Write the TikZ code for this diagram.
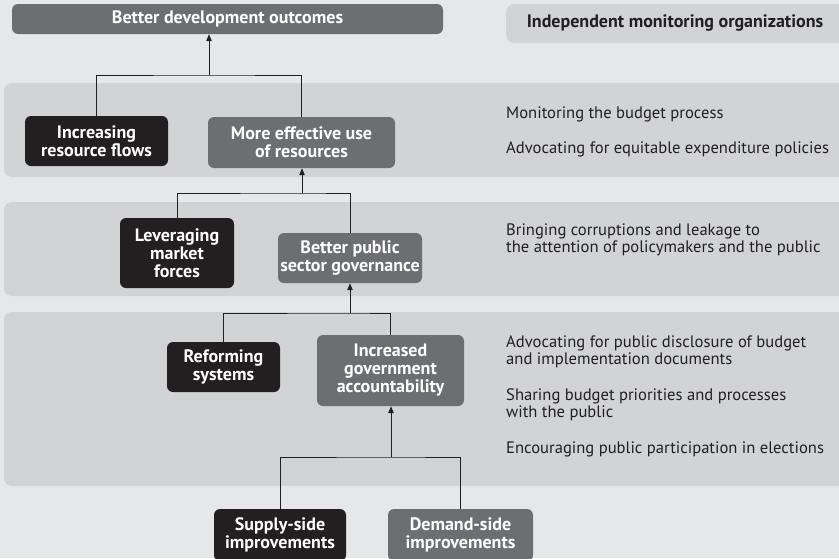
\documentclass[tikz,border=0pt]{standalone}
\usepackage{fontspec}
\setmainfont{PT Sans}
\usetikzlibrary{arrows.meta,calc}
\definecolor{bgc}{HTML}{E6E7E8}
\definecolor{bandc}{HTML}{D1D3D4}
\definecolor{gboxc}{HTML}{6D6E71}
\definecolor{kboxc}{HTML}{231F20}
\definecolor{txtc}{HTML}{231F20}
\begin{document}
\begin{tikzpicture}[x=1pt,y=-1pt,
 box/.style={rounded corners=6pt, align=center, text=white, font=\bfseries\fontsize{18}{18}\selectfont, inner sep=0pt},
 greybox/.style={box, fill=gboxc},
 blackbox/.style={box, fill=kboxc},
 band/.style={fill=bandc, rounded corners=8pt},
 conn/.style={draw=txtc, line width=1pt},
 arr/.style={conn, -{Triangle[length=7pt,width=5.5pt]}},
 desc/.style={anchor=base west, text=txtc, font=\fontsize{16.6}{18}\selectfont, inner sep=0pt}
]
\fill[bgc] (0,0) rectangle (839,558);
\useasboundingbox (0,0) rectangle (839,558);
% bands
\fill[band] (4,83) rectangle (860,177);
\fill[band] (4,202) rectangle (860,296);
\fill[band] (4,312) rectangle (860,486);
% top boxes
\node[greybox, minimum width=431pt, minimum height=30pt] (top) at (227.5,19) {Better development outcomes};
\node[band, minimum width=350pt, minimum height=39pt, anchor=west] (indbox) at (506,23.5) {};
\node[font=\bfseries\fontsize{18}{18}\selectfont, text=txtc, inner sep=0pt] (ind) at (675,23.5) {Independent monitoring organizations};
% level 1
\node[blackbox, minimum width=143pt, minimum height=50pt] (inc) at (96.5,141) {Increasing\\resource flows};
\node[greybox, minimum width=187pt, minimum height=51pt] (mor) at (301.5,142.5) {More effective use\\of resources};
% level 2
\node[blackbox, minimum width=114pt, minimum height=70pt] (lev) at (177,253) {Leveraging\\market\\forces};
\node[greybox, minimum width=144pt, minimum height=50pt] (bpg) at (350,258) {Better public\\sector governance};
% level 3
\node[blackbox, minimum width=113pt, minimum height=50pt] (ref) at (223.5,367) {Reforming\\systems};
\node[greybox, minimum width=147pt, minimum height=71pt] (acc) at (390.5,370.5) {Increased\\government\\accountability};
% level 4
\node[blackbox, minimum width=132pt, minimum height=52pt] (sup) at (280,535) {Supply-side\\improvements};
\node[greybox, minimum width=145pt, minimum height=52pt] (dem) at (460.5,535) {Demand-side\\improvements};
% junctions
\coordinate (j1) at (209,75);
\coordinate (j2) at (302,193);
\coordinate (j3) at (350,313);
\coordinate (j4) at (391,457);
% connectors
\draw[conn] (inc.north) |- (j1) -| (mor.north);
\draw[arr] (j1) -- (j1 |- top.south);
\draw[conn] (lev.north) |- (j2) -| (bpg.north);
\draw[arr] (j2) -- (j2 |- mor.south);
\draw[conn] (ref.north) |- (j3) -| (acc.north);
\draw[arr] (j3) -- (j3 |- bpg.south);
\draw[conn] (sup.north) |- (j4) -| (dem.north);
\draw[arr] (j4) -- (j4 |- acc.south);
% descriptions
\node[desc] (d1) at (506,118) {Monitoring the budget process};
\node[desc] (d2) at (506,153) {Advocating for equitable expenditure policies};
\node[desc] (d3a) at (506,235) {Bringing corruptions and leakage to};
\node[desc] (d3b) at (506,252.5) {the attention of policymakers and the public};
\node[desc] (d4a) at (506,347) {Advocating for public disclosure of budget};
\node[desc] (d4b) at (506,364.5) {and implementation documents};
\node[desc] (d5a) at (506,400) {Sharing budget priorities and processes};
\node[desc] (d5b) at (506,417.5) {with the public};
\node[desc] (d6) at (506,453) {Encouraging public participation in elections};
\end{tikzpicture}
\end{document}
